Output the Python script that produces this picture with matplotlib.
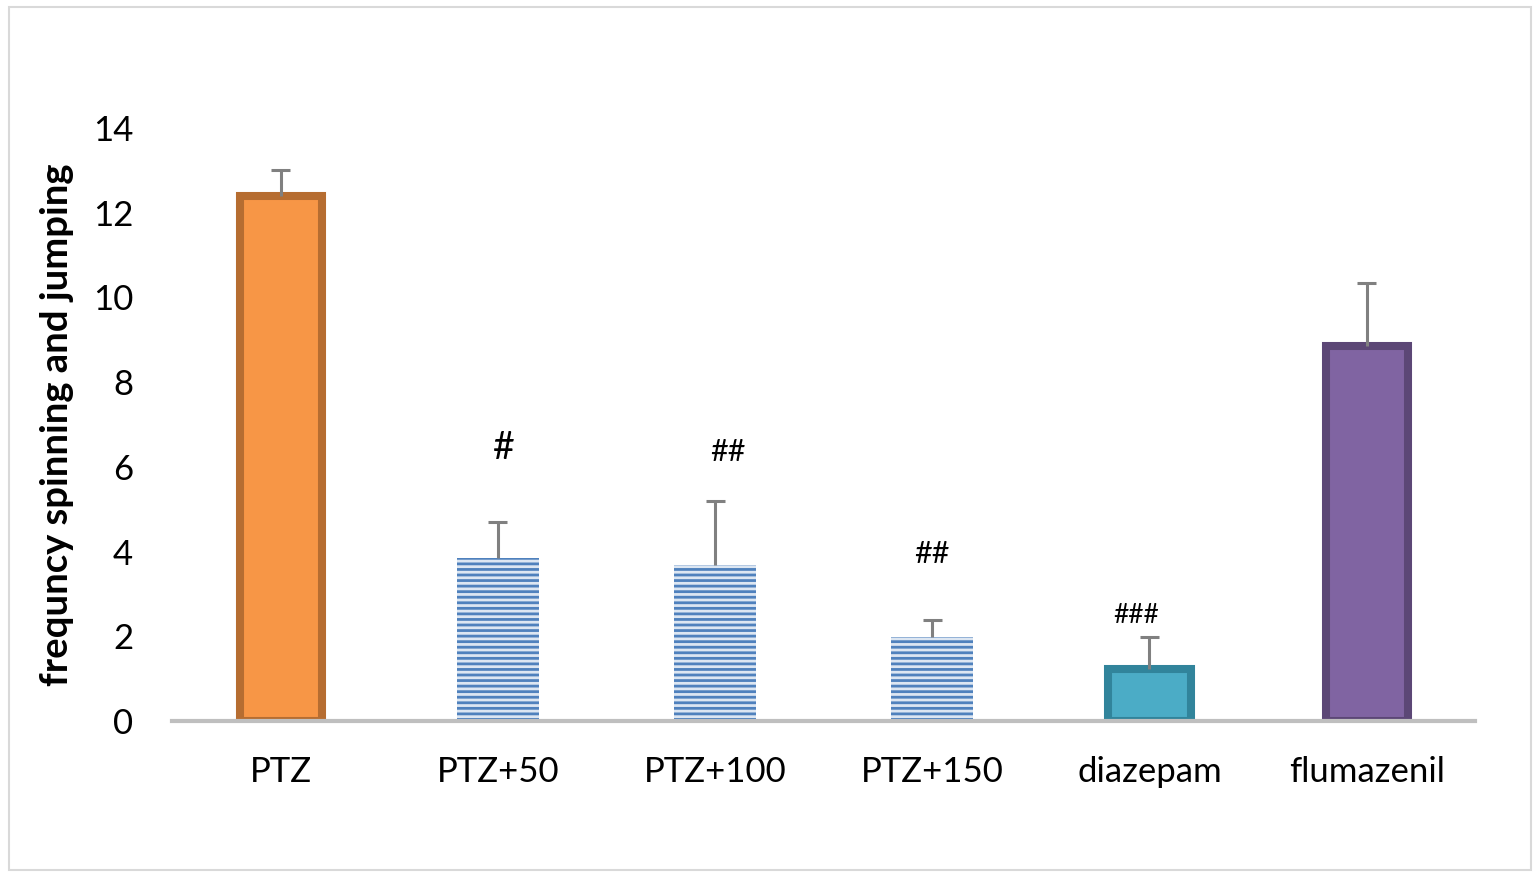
import matplotlib.pyplot as plt
from matplotlib.patches import Rectangle

plt.rcParams['font.family'] = ['Lato', 'DejaVu Sans']
plt.rcParams['hatch.linewidth'] = 2.0

# данные
groups = ["PTZ", "PTZ+50", "PTZ+100", "PTZ+150", "diazepam", "flumazenil"]
means = [12.4, 3.85, 3.68, 1.98, 1.22, 8.85]
sem = [0.6, 0.85, 1.52, 0.4, 0.76, 1.5]
marks = ["", "#", "##", "##", "###", ""]

face = ["#f79646", "#dce6f2", "#dce6f2", "#dce6f2", "#4bacc6", "#8064a2"]
edge = ["#b66d31", "#4f81bd", "#4f81bd", "#4f81bd", "#31849b", "#5c4776"]
hatch = [None, "---", "---", "---", None, None]
mark_y = [0, 6.45, 6.35, 3.95, 2.5, 0]
mark_dx = [0, 0.03, 0.06, 0.0, -0.06, 0]
mark_size = [0, 27, 22, 22, 19, 0]

fig = plt.figure(figsize=(15.4, 8.77), dpi=100)
ax = fig.add_axes([0.1117, 0.178, 0.8463, 0.676])

x = list(range(len(groups)))
for i in x:
    if hatch[i]:
        ax.bar(i, means[i], width=0.378, color=face[i], edgecolor=edge[i],
               hatch=hatch[i], linewidth=0, zorder=2)
    else:
        ax.bar(i, means[i], width=0.378, color=face[i], edgecolor=edge[i],
               linewidth=5.8, zorder=2)

# только верхние усы погрешности, без нижней засечки
tops = [m + s for m, s in zip(means, sem)]
ax.vlines(x, means, tops, color="#808080", linewidth=2.2, zorder=3)
ax.hlines(tops, [i - 0.044 for i in x], [i + 0.044 for i in x],
          color="#808080", linewidth=2.2, zorder=3)

for i in x:
    if marks[i]:
        ax.text(i + mark_dx[i], mark_y[i], marks[i], ha="center", va="center",
                fontsize=mark_size[i], color="black")

ax.set_xlim(-0.5, len(groups) - 0.5)
ax.set_ylim(0, 14)
ax.set_yticks(range(0, 15, 2))
ax.set_xticks(x)
ax.set_xticklabels(groups)
ax.tick_params(axis="both", length=0)
ax.tick_params(axis="x", pad=25, labelsize=25)
ax.tick_params(axis="y", pad=28, labelsize=25)
for s in ["top", "right", "left"]:
    ax.spines[s].set_visible(False)
ax.spines["bottom"].set_color("#bfbfbf")
ax.spines["bottom"].set_linewidth(3)
ax.set_ylabel("frequncy spinning and jumping", fontsize=27.5, fontweight="bold")
ax.yaxis.set_label_coords(-0.075, 0.5)

# рамка вокруг всей области диаграммы
fig.patches.append(Rectangle((0.006, 0.008), 0.988, 0.984, transform=fig.transFigure,
                             fill=False, edgecolor="#d9d9d9", linewidth=1.5))

fig.savefig("out.png", dpi=100)
